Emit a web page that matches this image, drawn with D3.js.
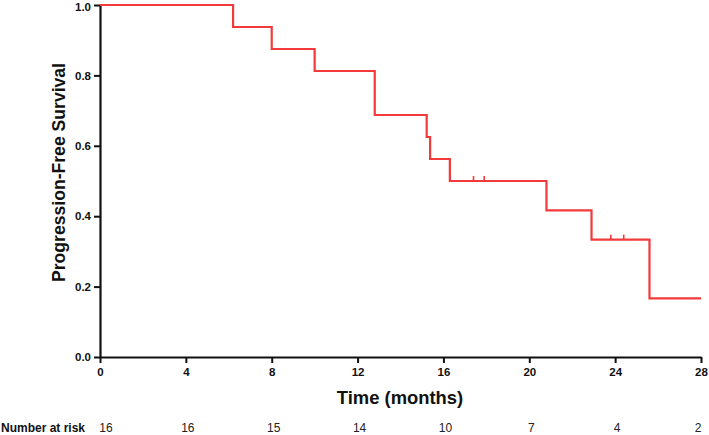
<!DOCTYPE html>
<html><head><meta charset="utf-8">
<script src="https://cdn.jsdelivr.net/npm/d3@7"></script>
<style>body{margin:0;background:#fff}svg{display:block}</style>
</head><body>
<svg id="c" width="709" height="435"></svg>
<script>
// Kaplan-Meier steps: event times and survival after the drop
const stepTimes = [0, 6.2, 8.0, 10.0, 12.8, 15.22, 15.38, 16.3, 20.8, 22.9, 25.6];
const stepSurv  = [1.0, 0.9375, 0.875, 0.8125, 0.6875, 0.625, 0.5625, 0.5, 0.4167, 0.3333, 0.1667];
const endTime = 28;
const censorTimes = [17.4, 17.9, 23.8, 24.4];
const xTicks = [0, 4, 8, 12, 16, 20, 24, 28];
const yTicks = [0.0, 0.2, 0.4, 0.6, 0.8, 1.0];
const atRisk = [16, 16, 15, 14, 10, 7, 4, 2];

const svg = d3.select("#c");
const x = d3.scaleLinear().domain([0, 28]).range([100, 701]);
const y = d3.scaleLinear().domain([0, 1]).range([357, 5]);
const font = "'Liberation Sans', Arial, sans-serif";
const red = "#f23a3a";

// axes
const xa = svg.append("g").attr("transform", "translate(0,357)")
  .call(d3.axisBottom(x).tickValues(xTicks).tickSize(6).tickSizeOuter(0).tickPadding(5).tickFormat(d3.format("d")));
const ya = svg.append("g").attr("transform", "translate(100,0)")
  .call(d3.axisLeft(y).tickValues(yTicks).tickSize(6).tickSizeOuter(0).tickPadding(3).tickFormat(d3.format(".1f")));
[xa, ya].forEach(g => {
  g.select(".domain").attr("stroke", "#111").attr("stroke-width", 2.2);
  g.selectAll(".tick line").attr("stroke", "#111").attr("stroke-width", 2);
  g.selectAll(".tick text").attr("font-family", font).attr("font-size", 11.5).attr("font-weight", "bold").attr("fill", "#111");
});
// keep the top label inside the picture
ya.selectAll(".tick text").filter(d => d === 1).attr("y", 1.5);

// KM curve
const pts = stepTimes.map((t, i) => [t, stepSurv[i]]);
pts.push([endTime, stepSurv[stepSurv.length - 1]]);
const line = d3.line().x(d => x(d[0])).y(d => y(d[1])).curve(d3.curveStepAfter);
svg.append("path").datum(pts).attr("d", line).attr("fill", "none")
  .attr("stroke", red).attr("stroke-width", 2.2);

// censor marks
function survAt(t) { let s = 1; stepTimes.forEach((st, i) => { if (st <= t) s = stepSurv[i]; }); return s; }
svg.selectAll("line.cens").data(censorTimes).join("line").attr("class", "cens")
  .attr("x1", d => x(d)).attr("x2", d => x(d))
  .attr("y1", d => y(survAt(d))).attr("y2", d => y(survAt(d)) - 5)
  .attr("stroke", red).attr("stroke-width", 1.6);

// titles
svg.append("text").attr("x", 400).attr("y", 404).attr("text-anchor", "middle")
  .attr("font-family", font).attr("font-size", 18.4).attr("font-weight", "bold").attr("fill", "#111")
  .text("Time (months)");
svg.append("text").attr("transform", "translate(65,172.5) rotate(-90)").attr("text-anchor", "middle")
  .attr("font-family", font).attr("font-size", 17.6).attr("font-weight", "bold").attr("fill", "#111")
  .text("Progression-Free Survival");

// number at risk
svg.append("text").attr("x", 1).attr("y", 432).attr("font-family", font).attr("font-size", 12)
  .attr("font-weight", "600").attr("fill", "#111").text("Number at risk");
svg.selectAll("text.risk").data(atRisk).join("text").attr("class", "risk")
  .attr("x", (d, i) => x(xTicks[i]) + (i === 0 ? 6 : (i === xTicks.length - 1 ? -3 : 2)))
  .attr("y", 432).attr("text-anchor", "middle")
  .attr("font-family", font).attr("font-size", 12).attr("fill", "#222").text(d => d);
</script>
</body></html>
